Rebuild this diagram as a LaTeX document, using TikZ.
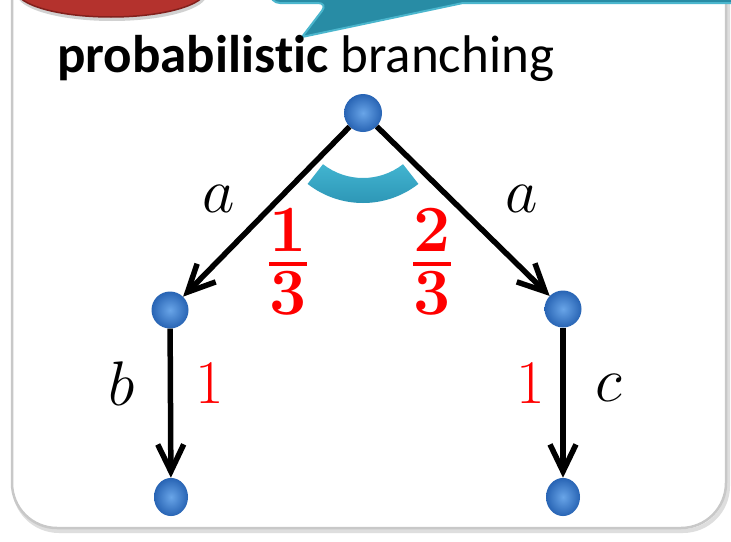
\RequirePackage{fix-cm}
\documentclass[tikz,border=0pt]{standalone}
\usepackage{amsmath}
\usepackage{fontspec}
\newfontfamily\carlito[Ligatures={NoCommon,NoRequired,NoContextual}]{Carlito}
\usetikzlibrary{arrows.meta,shadings,calc}
\definecolor{ballin}{RGB}{105,165,232}
\definecolor{ballout}{RGB}{40,100,180}
\definecolor{bandtop}{RGB}{66,180,208}
\definecolor{bandbot}{RGB}{42,146,178}
\definecolor{bubble}{RGB}{40,140,165}
\definecolor{bubbleedge}{RGB}{75,182,205}
\definecolor{redblob}{RGB}{180,50,45}
\definecolor{rededge}{RGB}{130,32,28}
\definecolor{framegray}{RGB}{200,200,200}
\newcommand{\myfr}[2]{\vbox{\halign{\hfil##\hfil\cr\textbf{#1}\cr\noalign{\kern10pt\hrule height 4pt\kern6pt}\textbf{#2}\cr}}}
\tikzset{
  ball/.style={circle, inner sep=0pt, minimum size=#1, inner color=ballin, outer color=ballout},
  ball/.default=38pt,
  edgearrow/.style={line width=5.5pt, -{Straight Barb[length=27pt,width=26pt,line width=5.5pt]}},
  lbl/.style={inner sep=0pt, font=\fontsize{63}{70}\selectfont},
  prob/.style={inner sep=0pt, text=red, font=\fontsize{62}{70}\selectfont},
  frac/.style={inner sep=0pt, text=red, font=\fontsize{66}{72}\selectfont}
}
\begin{document}
\begin{tikzpicture}[x=1pt,y=-1pt]
\useasboundingbox (0,0) rectangle (731,541);
\fill[white] (0,0) rectangle (731,541);
% frame
\draw[framegray!60, line width=4pt, rounded corners=45pt] (14,-80) rectangle (728,531);
\draw[framegray, line width=2.5pt, fill=white, rounded corners=45pt] (12,-80) rectangle (726,528);
% red blob
\fill[black!18] (112,-6) ellipse [x radius=95, y radius=27];
\draw[rededge, line width=1.5pt, fill=redblob] (111,-10) ellipse [x radius=95, y radius=27];
% teal bubble
\draw[bubbleedge, line width=2pt, fill=bubble, rounded corners=10pt] (270,-20) -- (270,3) -- (328,3) [sharp corners] -- (302,37) -- (463,3) -- (740,3) -- (740,-20) -- cycle;
% title
\node[anchor=base west, inner sep=0pt, font=\carlito\fontsize{53}{60}\selectfont] (title) at (57,72) {\textbf{probabilistic} branching};
% band
\shade[top color=bandtop, bottom color=bandbot] ($(363,113)+(128:90)$) arc[start angle=128, end angle=52, radius=90] -- ($(363,113)+(52:65)$) arc[start angle=52, end angle=128, radius=65] -- cycle;
% nodes
\node[ball] (top) at (363,113) {};
\node[ball=37pt] (ml) at (170,310) {};
\node[ball=37pt] (mr) at (563,309) {};
\node[ball=34pt, yscale=1.12] (bl) at (171,497) {};
\node[ball=34pt, yscale=1.12] (br) at (563,497) {};
% edges
\draw[edgearrow] (top) -- (ml);
\draw[edgearrow] (top) -- (mr);
\draw[edgearrow] (ml) -- (bl);
\draw[edgearrow] (mr) -- (br);
% labels
\node[lbl] (la) at (219,199) {$a$};
\node[lbl] (ra) at (522,199) {$a$};
\node[lbl] (lb) at (122,384) {$b$};
\node[lbl] (lc) at (609,388) {$c$};
\node[frac] (f1) at (288,262) {\myfr{1}{3}};
\node[frac] (f2) at (432,262) {\myfr{2}{3}};
\node[prob] (p1) at (210,383) {1};
\node[prob] (p2) at (531,383) {1};
\end{tikzpicture}
\end{document}
